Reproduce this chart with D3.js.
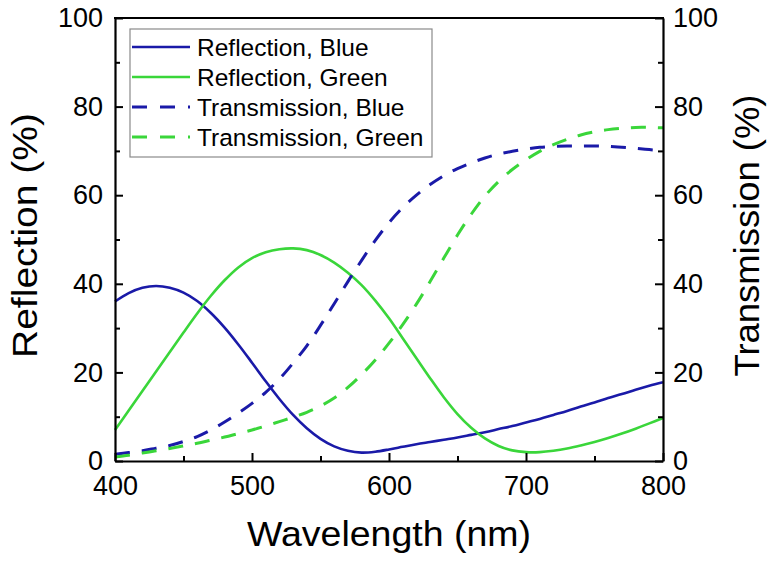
<!DOCTYPE html>
<html>
<head>
<meta charset="utf-8">
<script src="https://cdn.jsdelivr.net/npm/d3@7"></script>
<style>
  html, body { margin: 0; padding: 0; background: #fff; }
  svg { display: block; font-family: "Liberation Sans", Arial, sans-serif; }
</style>
</head>
<body>
<svg id="chart" width="769" height="563"></svg>
<script>
// Wavelength grid (nm)
const wavelengths = d3.range(400, 801, 10);

// Reflection spectra (%), left axis
const reflectionBlue = [36, 37.9, 39.1, 39.5, 39.1, 38.0, 36.1, 33.4, 30.1, 26.3, 22.2, 18.0, 14.0, 10.4, 7.4, 5.0, 3.3, 2.3, 1.9, 2.1,
  2.6, 3.2, 3.8, 4.3, 4.8, 5.3, 5.9, 6.5, 7.2, 7.9, 8.7, 9.5, 10.4, 11.3, 12.3, 13.2, 14.2, 15.1, 16.1, 17, 17.8];
const reflectionGreen = [7, 11.4, 15.8, 20.2, 24.6, 29, 33.3, 37.3, 40.8, 43.7, 45.8, 47.1, 47.8, 48, 47.6, 46.5, 44.8, 42.5, 39.7, 36.2,
  32.2, 27.7, 23.2, 18.7, 14.4, 10.6, 7.5, 5.1, 3.4, 2.4, 2, 2, 2.3, 2.8, 3.5, 4.3, 5.2, 6.2, 7.3, 8.5, 9.7];

// Transmission spectra (%), right axis
const transmissionBlue = [1.5, 1.9, 2.3, 2.9, 3.5, 4.4, 5.5, 7, 8.8, 10.8, 13, 15.5, 18.5, 22.1, 26, 30.6, 35.5, 40.5, 45.3, 49.8,
  53.8, 57.2, 60.0, 62.4, 64.4, 66.0, 67.3, 68.4, 69.3, 69.9, 70.4, 70.8, 71, 71.1, 71.1, 71.1, 71, 70.8, 70.6, 70.3, 70];
const transmissionGreen = [0.9, 1.3, 1.8, 2.3, 2.8, 3.4, 4, 4.7, 5.4, 6.2, 7, 7.9, 8.9, 9.9, 11, 12.4, 14.2, 16.6, 19.5, 22.8,
  26.6, 30.8, 35.4, 40.5, 45.8, 51, 55.7, 59.8, 63.1, 65.8, 68.0, 69.9, 71.4, 72.6, 73.6, 74.3, 74.8, 75.1, 75.3, 75.3, 75.2];

const seriesNames = ["Reflection, Blue", "Reflection, Green", "Transmission, Blue", "Transmission, Green"];
const seriesValues = [reflectionBlue, reflectionGreen, transmissionBlue, transmissionGreen];
const seriesAxis = ["left", "left", "right", "right"];
const seriesColors = ["#1a1aa8", "#3ad63a", "#1a1aa8", "#3ad63a"];
const seriesDashed = [false, false, true, true];

const xTicks = [400, 500, 600, 700, 800];
const xMinorTicks = [450, 550, 650, 750];
const yTicks = [0, 20, 40, 60, 80, 100];
const yMinorTicks = [10, 30, 50, 70, 90];

const xTitle = "Wavelength (nm)";
const yLeftTitle = "Reflection (%)";
const yRightTitle = "Transmission (%)";

// Layout
const plot = { left: 115, right: 663, top: 18, bottom: 461 };
const svg = d3.select("#chart");

const x = d3.scaleLinear().domain([400, 800]).range([plot.left, plot.right]);
const yLeft = d3.scaleLinear().domain([0, 100]).range([plot.bottom, plot.top]);
const yRight = d3.scaleLinear().domain([0, 100]).range([plot.bottom, plot.top]);

// Curves
const curves = svg.append("g").attr("class", "curves");
seriesValues.forEach((vals, i) => {
  const yScale = seriesAxis[i] === "left" ? yLeft : yRight;
  const line = d3.line()
    .x((d, j) => x(wavelengths[j]))
    .y(d => yScale(d))
    .curve(d3.curveCatmullRom.alpha(0.5));
  curves.append("path")
    .datum(vals)
    .attr("d", line)
    .attr("fill", "none")
    .attr("stroke", seriesColors[i])
    .attr("stroke-width", seriesDashed[i] ? 3 : 2.6)
    .attr("stroke-dasharray", seriesDashed[i] ? "15,12" : null);
});

// Axes
const tickFont = 27;
function styleAxis(g) {
  g.selectAll(".domain").attr("stroke", "#000").attr("stroke-width", 2.2);
  g.selectAll(".tick line").attr("stroke", "#000").attr("stroke-width", 2);
  g.selectAll(".tick text").attr("fill", "#000").attr("font-size", tickFont)
    .attr("font-family", "'Liberation Sans', Arial, sans-serif");
}

const xAxis = svg.append("g")
  .attr("transform", `translate(0,${plot.bottom})`)
  .call(d3.axisBottom(x).tickValues(xTicks).tickFormat(d3.format("d"))
    .tickSizeInner(-8).tickSizeOuter(0).tickPadding(6));
styleAxis(xAxis);
xAxis.selectAll(".tick text").attr("dy", "0.71em").attr("y", 15);

svg.append("g")
  .attr("transform", `translate(0,${plot.bottom})`)
  .call(d3.axisBottom(x).tickValues(xMinorTicks).tickFormat("").tickSizeInner(-5).tickSizeOuter(0))
  .call(g => { g.select(".domain").remove(); g.selectAll(".tick line").attr("stroke", "#000").attr("stroke-width", 2); });

const yAxisL = svg.append("g")
  .attr("transform", `translate(${plot.left},0)`)
  .call(d3.axisLeft(yLeft).tickValues(yTicks).tickFormat(d3.format("d"))
    .tickSizeInner(-8).tickSizeOuter(0).tickPadding(12));
styleAxis(yAxisL);

svg.append("g")
  .attr("transform", `translate(${plot.left},0)`)
  .call(d3.axisLeft(yLeft).tickValues(yMinorTicks).tickFormat("").tickSizeInner(-5).tickSizeOuter(0))
  .call(g => { g.select(".domain").remove(); g.selectAll(".tick line").attr("stroke", "#000").attr("stroke-width", 2); });

const yAxisR = svg.append("g")
  .attr("transform", `translate(${plot.right},0)`)
  .call(d3.axisRight(yRight).tickValues(yTicks).tickFormat(d3.format("d"))
    .tickSizeInner(-8).tickSizeOuter(0).tickPadding(10));
styleAxis(yAxisR);

svg.append("g")
  .attr("transform", `translate(${plot.right},0)`)
  .call(d3.axisRight(yRight).tickValues(yMinorTicks).tickFormat("").tickSizeInner(-5).tickSizeOuter(0))
  .call(g => { g.select(".domain").remove(); g.selectAll(".tick line").attr("stroke", "#000").attr("stroke-width", 2); });

// Top frame line
svg.append("line")
  .attr("x1", plot.left - 1).attr("x2", plot.right + 1)
  .attr("y1", plot.top).attr("y2", plot.top)
  .attr("stroke", "#000").attr("stroke-width", 2.2);

// Axis titles
svg.append("text")
  .attr("x", (plot.left + plot.right) / 2).attr("y", 546)
  .attr("text-anchor", "middle").attr("font-size", 35)
  .attr("textLength", 284).attr("lengthAdjust", "spacingAndGlyphs")
  .text(xTitle);

svg.append("text")
  .attr("transform", `translate(37,${(plot.top + plot.bottom) / 2 - 4}) rotate(-90)`)
  .attr("text-anchor", "middle").attr("font-size", 35)
  .attr("textLength", 245).attr("lengthAdjust", "spacingAndGlyphs")
  .text(yLeftTitle);

svg.append("text")
  .attr("transform", `translate(759,${(plot.top + plot.bottom) / 2 - 4}) rotate(-90)`)
  .attr("text-anchor", "middle").attr("font-size", 35)
  .attr("textLength", 282).attr("lengthAdjust", "spacingAndGlyphs")
  .text(yRightTitle);

// Legend
const legend = svg.append("g").attr("transform", "translate(130,29)");
legend.append("rect")
  .attr("x", 0).attr("y", 0).attr("width", 302).attr("height", 128)
  .attr("fill", "#fff").attr("stroke", "#8a8a8a").attr("stroke-width", 1.2);
seriesNames.forEach((name, i) => {
  const cy = 18 + i * 30;
  legend.append("line")
    .attr("x1", 2).attr("x2", 60).attr("y1", cy).attr("y2", cy)
    .attr("stroke", seriesColors[i])
    .attr("stroke-width", seriesDashed[i] ? 3 : 2.6)
    .attr("stroke-dasharray", seriesDashed[i] ? "15,13" : null);
  legend.append("text")
    .attr("x", 67).attr("y", cy).attr("dy", "0.36em")
    .attr("font-size", 24.5).attr("fill", "#000")
    .text(name);
});
</script>
</body>
</html>
